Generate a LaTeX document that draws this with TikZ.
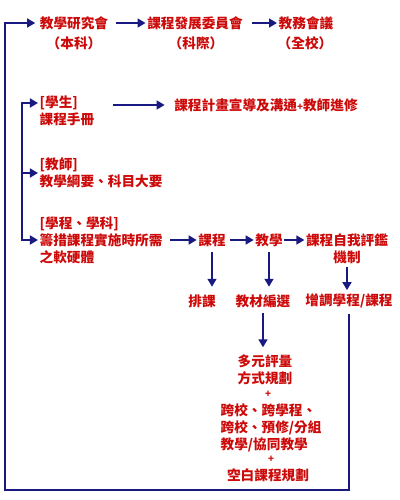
\documentclass[tikz,border=0pt]{standalone}
\usepackage{fontspec}
\setmainfont{Noto Sans CJK TC}
\usetikzlibrary{arrows.meta}
\definecolor{flowred}{RGB}{204,10,10}
\definecolor{flownavy}{RGB}{25,25,130}
\tikzstyle{arrow} = [line width=1.4pt, flownavy, -{Triangle[length=0.2cm,width=0.22cm]}]
\tikzstyle{link} = [line width=1.4pt, flownavy]
\tikzstyle{flowtext} = [text=flowred, inner sep=1pt, font=\fontsize{9.7}{12}\selectfont\bfseries]
\newcommand{\smallplus}{{\fontsize{7}{8}\selectfont +}}

\begin{document}
\begin{tikzpicture}[x=0.025cm, y=-0.025cm]
\useasboundingbox (0,0) rectangle (400,500);

% top row

\node[flowtext] (yanjiu) at (74,23) {教學研究會};
\node[flowtext] (yanjiu_sub) at (74,43) {（本科）};
\node[flowtext] (fazhan) at (195,23) {課程發展委員會};
\node[flowtext] (fazhan_sub) at (196,43) {（科際）};
\node[flowtext] (jiaowu) at (306,23) {教務會議};
\node[flowtext] (jiaowu_sub) at (305,43) {（全校）};

\draw [arrow, shorten <=0.15cm] (yanjiu) -- (fazhan);
\draw [arrow, shorten <=0.2cm] (fazhan) -- (jiaowu);

% left side

\node[flowtext, anchor=west] (stu_tag) at (38,103) {[學生]};
\node[flowtext, anchor=west] (stu_book) at (38,119) {課程手冊};
\node[flowtext] (xuandao) at (266,105) {課程計畫宣導及溝通\smallplus 教師進修};
\node[flowtext, anchor=west, align=left] (teacher) at (38,173) {[教師]\\教學綱要、科目大要};
\node[flowtext, anchor=west, align=left] (program) at (38,240) {[學程、學科]\\籌措課程實施時所需\\之軟硬體};

\coordinate (bus_top) at (22,103);
\draw [arrow] (program.west -| bus_top) |- (stu_tag.west);
\draw [arrow] (stu_tag.west -| bus_top) |- (program.west);
\draw [arrow] (teacher.west -| bus_top) -- (teacher.west);
\draw [arrow, shorten <=0.425cm, shorten >=0.2cm] (stu_book.east |- xuandao.west) -- (xuandao.west);

% middle row

\node[flowtext] (kecheng) at (212,240) {課程};
\node[flowtext] (jiaoxue) at (269,240) {教學};
\node[flowtext] (pingjian) at (347,240) {課程自我評鑑};
\node[flowtext] (pingjian_sub) at (347,257) {機制};

\node[flowtext] (paike) at (202,301) {排課};
\node[flowtext] (jiaocai) at (263,301) {教材編選};
\node[flowtext] (zengdiao) at (349,301) {增調學程/課程};

\draw [arrow, shorten <=0.15cm] (program) -- (kecheng);
\draw [arrow, shorten <=0.075cm] (kecheng) -- (jiaoxue);
\draw [arrow] (jiaoxue) -- (pingjian);
\draw [arrow, shorten <=0.1cm, shorten >=0.15cm] (kecheng.south) -- (kecheng.south |- paike.north);
\draw [arrow, shorten <=0.1cm, shorten >=0.15cm] (jiaoxue.south) -- (jiaoxue.south |- jiaocai.north);
\draw [arrow, shorten <=0.05cm, shorten >=0.05cm] (pingjian_sub.south) -- (pingjian_sub.south |- zengdiao.north);

% bottom stack

\node[flowtext, align=center] (duoyuan) at (265,370) {多元評量\\方式規劃};
\node[flowtext] (plus_a) at (268,394) {\smallplus};
\node[flowtext, anchor=west, align=left] (kuaxiao) at (219,428) {跨校、跨學程、\\跨校、預修/分組\\教學/協同教學};
\node[flowtext] (plus_b) at (271,459) {\smallplus};
\node[flowtext] (kongbai) at (268,475) {空白課程規劃};

\draw [arrow, shorten <=0.1cm, shorten >=0.15cm] (jiaocai.south) -- (jiaocai.south |- duoyuan.north);

% feedback loop

\coordinate (loop_corner) at (5,490);
\draw [arrow, shorten <=0.1cm, shorten >=0.075cm] (zengdiao.south) |- (loop_corner) |- (yanjiu.west);

\end{tikzpicture}
\end{document}
